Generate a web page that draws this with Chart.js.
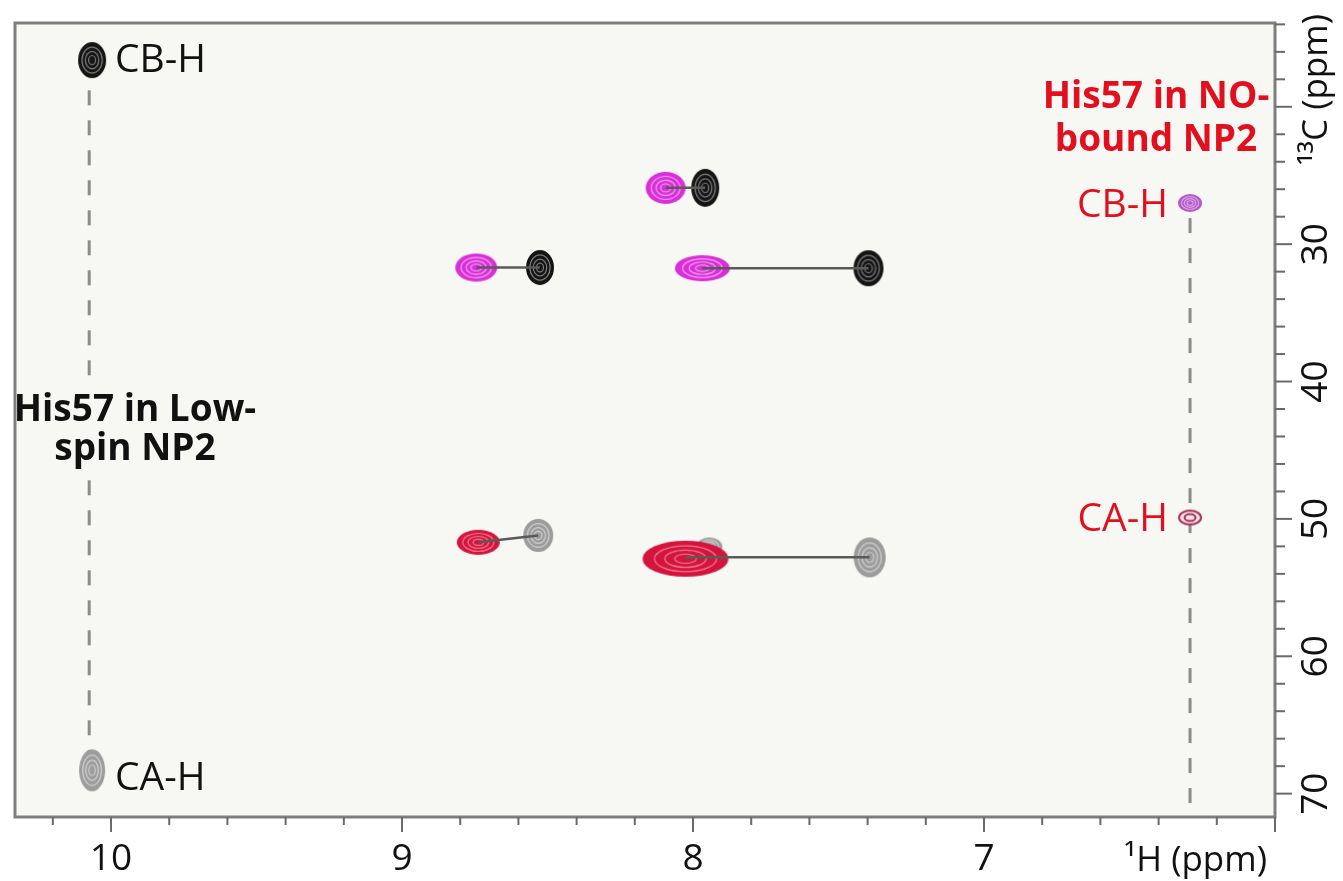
<!DOCTYPE html>
<html>
<head>
<meta charset="utf-8">
<script src="https://cdn.jsdelivr.net/npm/chart.js@4.4.1/dist/chart.umd.min.js"></script>
<style>
  html, body { margin: 0; padding: 0; background: #fff; }
  canvas { display: block; }
</style>
</head>
<body>
<canvas id="chart" width="1343" height="881"></canvas>
<script>
// Peak positions [1H ppm, 13C ppm]
const lowSpinCB = [[10.065, 16.6], [7.958, 25.9], [8.526, 31.7], [7.397, 31.75]];
const lowSpinCA = [[10.065, 68.3], [8.532, 51.2], [7.944, 52.0], [7.393, 52.8]];
const noBoundCB = [[8.094, 25.9], [8.745, 31.7], [7.968, 31.75], [6.292, 27.0]];
const noBoundCA = [[8.738, 51.7], [8.026, 52.9], [6.292, 49.9]];

// shift change between low-spin and NO-bound for the same site
const shiftPairs = [
    [[8.094, 25.9], [7.958, 25.9]],
    [[8.745, 31.7], [8.526, 31.7]],
    [[7.968, 31.75], [7.397, 31.75]],
    [[8.738, 51.7], [8.532, 51.2]],
    [[8.026, 52.8], [7.393, 52.8]]
];

// His57 guide lines
const lowSpinGuide = [[10.075, 18.8], [10.075, 67.2]];
const noBoundGuide = [[6.292, 28.1], [6.292, 71.7]];

// Axes
const xTickLabels = [10, 9, 8, 7];
const yTickLabels = [30, 40, 50, 60, 70];
const xRange = [6.0, 10.33];
const yRange = [13.9, 71.7];

// Contour blob looks (pixel sizes, colours) - kept apart from the data
const lowSpinCBLook = [[28, 36, 'black'], [28, 38, 'black'], [28, 35, 'black'], [30, 36, 'black']];
const lowSpinCALook = [[26, 42, 'gray'], [30, 33, 'gray'], [26, 18, 'gray'], [32, 40, 'gray']];
const noBoundCBLook = [[40, 32, 'magenta'], [42, 28, 'magenta'], [55, 26, 'magenta'], [24, 18, 'purple']];
const noBoundCALook = [[43, 25, 'red'], [86, 36, 'red'], [22, 14, 'ring']];

const palette = {
    black:   { fill: '#141414', ring: 'rgba(255,255,255,0.45)' },
    gray:    { fill: '#9c9c9c', ring: '#d0d0d0' },
    magenta: { fill: '#d92fd9', ring: '#f2a2f2' },
    purple:  { fill: '#b25ac8', ring: '#dba0e8' },
    red:     { fill: '#d3153d', ring: '#f27a90' },
    ring:    { fill: '#f3e2e8', ring: '#a8325a' }
};

function blob(look) {
    const [w, h, kind] = look;
    const p = palette[kind];
    const c = document.createElement('canvas');
    c.width = w + 4;
    c.height = h + 4;
    const g = c.getContext('2d');
    const cx = c.width / 2, cy = c.height / 2;
    g.fillStyle = p.fill;
    g.beginPath();
    g.ellipse(cx, cy, w / 2, h / 2, 0, 0, Math.PI * 2);
    g.fill();
    g.strokeStyle = p.ring;
    if (kind === 'ring') {
        g.lineWidth = 2;
        g.stroke();
        g.beginPath();
        g.ellipse(cx, cy, w / 4, h / 4, 0, 0, Math.PI * 2);
        g.stroke();
        return c;
    }
    g.lineWidth = 1.2;
    [0.72, 0.48, 0.25].forEach(f => {
        g.beginPath();
        g.ellipse(cx, cy, w / 2 * f, h / 2 * f, 0, 0, Math.PI * 2);
        g.stroke();
    });
    return c;
}

const toPts = arr => arr.map(([x, y]) => ({ x, y }));

const font = "'Open Sans', sans-serif";
const red = '#e2101f';
const plotBg = '#f7f7f4';

// Text drawn on the plot
const notes = [
    { text: 'CB-H', x: 115, y: 72, align: 'left', color: '#111', weight: '400', size: 39 },
    { text: 'CA-H', x: 115, y: 790, align: 'left', color: '#111', weight: '400', size: 39 },
    { text: 'His57 in Low-', x: 135, y: 421, align: 'center', color: '#111', weight: '700', size: 37, box: true },
    { text: 'spin NP2', x: 135, y: 460, align: 'center', color: '#111', weight: '700', size: 37, box: true },
    { text: 'His57 in NO-', x: 1156, y: 108, align: 'center', color: red, weight: '700', size: 37 },
    { text: 'bound NP2', x: 1156, y: 151, align: 'center', color: red, weight: '700', size: 37 },
    { text: 'CB-H', x: 1168, y: 217, align: 'right', color: red, weight: '400', size: 39 },
    { text: 'CA-H', x: 1168, y: 531, align: 'right', color: red, weight: '400', size: 39 }
];

const frame = {
    id: 'frame',
    beforeDraw(chart) {
        const { ctx, chartArea: a } = chart;
        ctx.save();
        ctx.fillStyle = '#ffffff';
        ctx.fillRect(0, 0, chart.width, chart.height);
        ctx.fillStyle = plotBg;
        ctx.fillRect(a.left, a.top, a.right - a.left, a.bottom - a.top);
        ctx.restore();
    },
    afterDraw(chart) {
        const { ctx, chartArea: a, scales } = chart;
        const xs = scales.x, ys = scales.y;
        ctx.save();

        // labels on the plot (drawn first so the frame stays on top)
        notes.forEach(n => {
            ctx.font = `${n.weight} ${n.size}px ${font}`;
            ctx.textAlign = n.align;
            ctx.textBaseline = 'alphabetic';
            if (n.box) {
                const w = ctx.measureText(n.text).width;
                const left = Math.max(a.left, n.x - w / 2 - 4);
                ctx.fillStyle = plotBg;
                ctx.fillRect(left, n.y - n.size * 0.85, n.x + w / 2 + 4 - left, n.size * 1.12);
            }
            ctx.fillStyle = n.color;
            ctx.fillText(n.text, n.x, n.y);
        });

        // frame
        ctx.strokeStyle = '#7e7e7e';
        ctx.lineWidth = 3;
        ctx.strokeRect(a.left, a.top, a.right - a.left, a.bottom - a.top);

        // x ticks every 0.2 ppm
        ctx.lineWidth = 2;
        ctx.strokeStyle = '#6a6a6a';
        for (let i = 30; i <= 51; i++) {
            const v = i / 5;
            if (v > xRange[1]) continue;
            const px = xs.getPixelForValue(v);
            const major = i % 5 === 0;
            ctx.beginPath();
            ctx.moveTo(px, a.bottom);
            ctx.lineTo(px, a.bottom + (major ? 15 : 8));
            ctx.stroke();
        }
        // y ticks every 2 ppm
        for (let v = 14; v <= 70; v += 2) {
            const py = ys.getPixelForValue(v);
            const major = v % 10 === 0;
            ctx.beginPath();
            ctx.moveTo(a.right, py);
            ctx.lineTo(a.right + (major ? 17 : 10), py);
            ctx.stroke();
        }

        ctx.fillStyle = '#111';
        ctx.font = `37px ${font}`;
        ctx.textAlign = 'center';
        ctx.textBaseline = 'alphabetic';
        xTickLabels.forEach(v => ctx.fillText(String(v), xs.getPixelForValue(v), 870));
        ctx.textAlign = 'right';
        ctx.font = `35px ${font}`;
        ctx.fillText('\u00B9H (ppm)', 1267, 871);

        ctx.font = `37px ${font}`;
        yTickLabels.forEach(v => {
            ctx.save();
            ctx.translate(1327, ys.getPixelForValue(v));
            ctx.rotate(-Math.PI / 2);
            ctx.textAlign = 'center';
            ctx.fillText(String(v), 0, 0);
            ctx.restore();
        });
        ctx.save();
        ctx.font = `35px ${font}`;
        ctx.translate(1327, 14);
        ctx.rotate(-Math.PI / 2);
        ctx.textAlign = 'right';
        ctx.fillText('\u00B9\u00B3C (ppm)', 0, 0);
        ctx.restore();

        ctx.restore();
    }
};

const peakSet = (label, data, looks, order) => ({
    label,
    data: toPts(data),
    pointStyle: looks.map(blob),
    pointRadius: 14,
    order
});

const lineSet = (pts, opts) => Object.assign({
    type: 'line',
    data: toPts(pts),
    borderColor: '#5a5a5a',
    borderWidth: 2.5,
    pointRadius: 0,
    showLine: true,
    fill: false,
    order: 1
}, opts);

const datasets = [
    peakSet('Low-spin CB', lowSpinCB, lowSpinCBLook, 3),
    peakSet('Low-spin CA', lowSpinCA, lowSpinCALook, 6),
    peakSet('NO-bound CB', noBoundCB, noBoundCBLook, 4),
    peakSet('NO-bound CA', noBoundCA, noBoundCALook, 5),
    ...shiftPairs.map(p => lineSet(p, {})),
    lineSet(lowSpinGuide, { borderColor: '#8c8c8c', borderWidth: 3, borderDash: [15, 15], order: 8 }),
    lineSet(noBoundGuide, { borderColor: '#8c8c8c', borderWidth: 3, borderDash: [15, 15], order: 8 })
];

new Chart(document.getElementById('chart'), {
    type: 'scatter',
    data: { datasets },
    options: {
        responsive: false,
        animation: false,
        devicePixelRatio: 1,
        layout: { padding: { left: 9, top: 23, right: 0, bottom: 0 } },
        plugins: { legend: { display: false }, tooltip: { enabled: false } },
        scales: {
            x: {
                type: 'linear', position: 'bottom', reverse: true,
                min: xRange[0], max: xRange[1],
                ticks: { display: false },
                grid: { display: false, drawTicks: false },
                border: { display: false },
                afterFit: s => { s.height = 64; }
            },
            y: {
                type: 'linear', position: 'right', reverse: true,
                min: yRange[0], max: yRange[1],
                ticks: { display: false },
                grid: { display: false, drawTicks: false },
                border: { display: false },
                afterFit: s => { s.width = 68; }
            }
        }
    },
    plugins: [frame]
});
</script>
</body>
</html>
